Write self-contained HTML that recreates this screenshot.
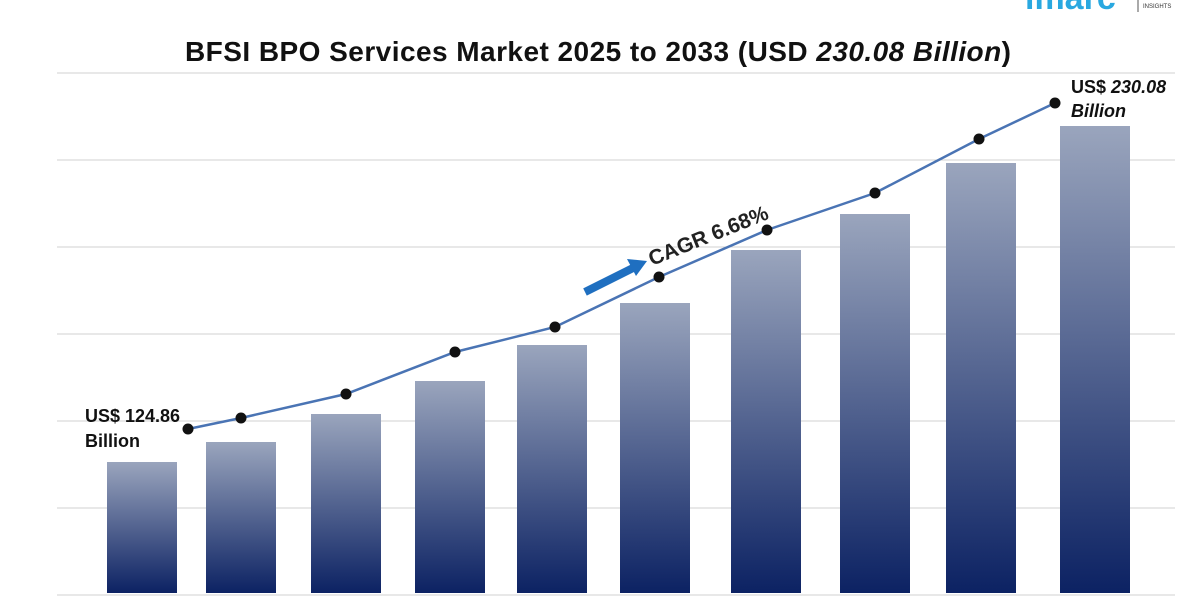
<!DOCTYPE html>
<html><head><meta charset="utf-8"><style>
body{margin:0;background:#fff;font-family:"Liberation Sans",sans-serif}
</style></head><body>
<svg id="c" width="1200" height="600">
<defs><linearGradient id="g" x1="0" y1="0" x2="0" y2="1"><stop offset="0" stop-color="#9aa5bd"/><stop offset="1" stop-color="#0c2263"/></linearGradient></defs>
<text x="1025" y="9" font-size="34" fill="#29a8e0" font-weight="bold">imarc</text>
<line x1="1138" y1="0" x2="1138" y2="12" stroke="#555"/>
<text x="1143" y="8" font-size="6" fill="#333">INSIGHTS</text>
<text x="598" y="61" text-anchor="middle" font-size="28" font-weight="bold" fill="#111" textLength="826">BFSI BPO Services Market 2025 to 2033 (USD <tspan font-style="italic">230.08 Billion</tspan>)</text>
<g id="grid"></g><g id="bars"></g><g id="line"></g>
<text x="85" y="422" font-size="18" font-weight="bold" fill="#111">US$ 124.86</text>
<text x="85" y="447" font-size="18" font-weight="bold" fill="#111">Billion</text>
<text x="1071" y="93" font-size="18" font-weight="bold" fill="#111">US$ <tspan font-style="italic">230.08</tspan></text>
<text x="1071" y="117" font-size="18" font-weight="bold" font-style="italic" fill="#111">Billion</text>
<line x1="585" y1="292" x2="633" y2="268" stroke="#1f6fc0" stroke-width="8"/>
<polygon points="647,261 627,259 636,276" fill="#1f6fc0"/>
<text x="652" y="266" font-size="21" font-weight="bold" fill="#222" transform="rotate(-22 652 266)">CAGR 6.68%</text>
</svg>
<script>
const barValues=[131,151,179,212,248,290,343,379,430,467];
const lineValues=[164,175,199,241,266,316,363,400,454,490];
const barX=[107,206,311,415,517,620,731,840,946,1060];
const lineX=[188,241,346,455,555,659,767,875,979,1055];
const gridValues=[0,87,174,261,348,435,522];
const ns="http://www.w3.org/2000/svg";
const y=v=>593-v;
function mk(t,a,p){const e=document.createElementNS(ns,t);for(const k in a)e.setAttribute(k,a[k]);document.getElementById(p).appendChild(e);return e;}
gridValues.forEach(v=>{const e=mk('line',{x1:57,x2:1175,y1:y(v)+2,y2:y(v)+2,stroke:'#d0d0d0','stroke-width':1},'grid');

});
barValues.forEach((v,i)=>{const e=mk('rect',{x:barX[i],y:y(v),width:70,height:v,fill:'url(#g)'},'bars');

});
const pl=mk('polyline',{points:lineValues.map((v,i)=>lineX[i]+','+y(v)).join(' '),fill:'none',stroke:'#4a74b4','stroke-width':2.5},'line');


lineValues.forEach((v,i)=>{const e=mk('circle',{cx:lineX[i],cy:y(v),r:5.5,fill:'#111'},'line');

});
</script>
</body></html>
